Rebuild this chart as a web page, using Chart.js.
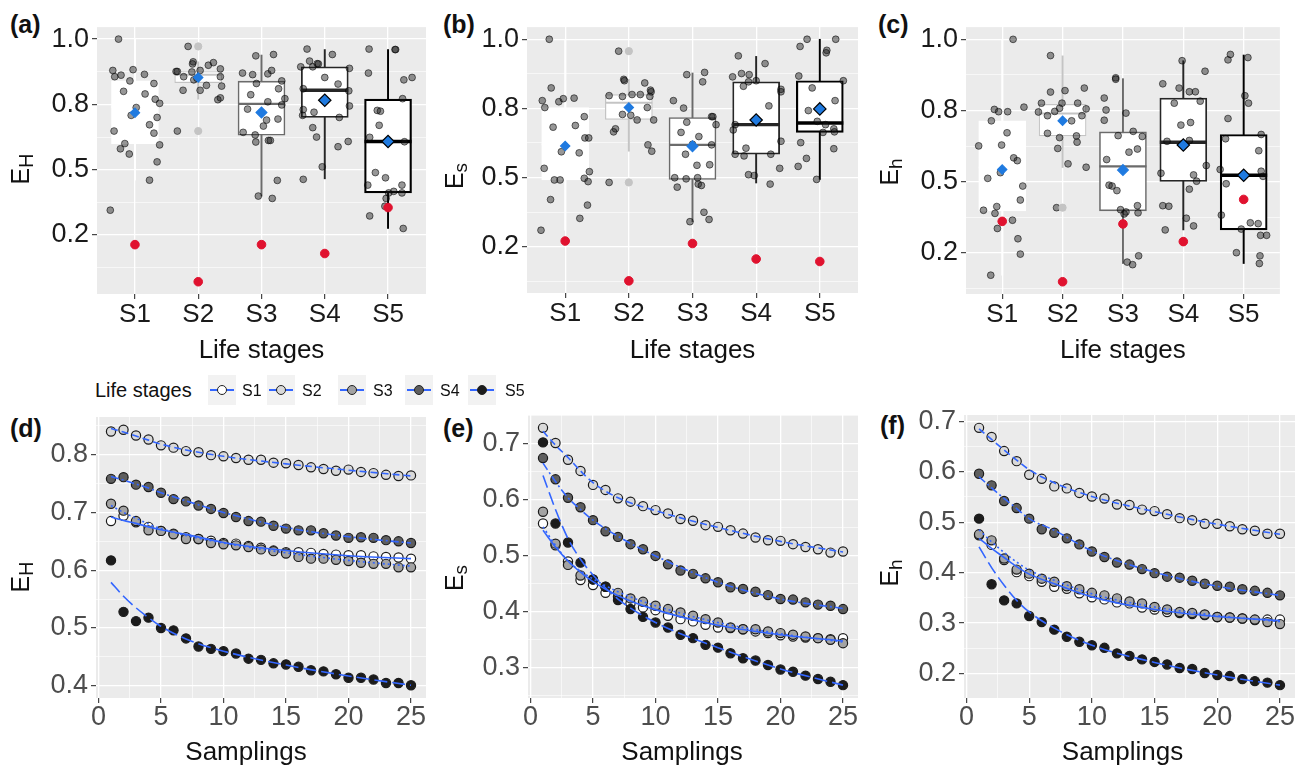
<!DOCTYPE html>
<html lang="en">
<head>
<meta charset="UTF-8">
<title>Evenness across life stages</title>
<script src="https://cdn.jsdelivr.net/npm/chart.js"></script>
<style>
  body { margin: 0; background: #fff; font-family: "Liberation Sans", Arial, sans-serif; }
  #wrap { position: relative; width: 1307px; height: 767px; overflow: hidden; }
  #wrap canvas { position: absolute; left: 0; top: 0; }
  .tag { position: absolute; font-weight: bold; font-size: 25px; line-height: 25px; color: #111; }
  .lg { position: absolute; line-height: 20px; color: #111; white-space: nowrap; }
  .key { position: absolute; width: 28px; height: 30px; background: #f2f2f2; }
  .key .ln { position: absolute; left: 2px; right: 2px; top: 14px; height: 1.5px; background: #3366ff; }
  .key .pt { position: absolute; left: 9px; top: 10px; width: 8px; height: 8px; border: 1px solid #222; border-radius: 50%; }
</style>
</head>
<body>
<div id="wrap">
  <div class="tag" style="left:10px;top:12px">(a)</div>
  <div class="tag" style="left:443px;top:12px">(b)</div>
  <div class="tag" style="left:878px;top:12px">(c)</div>
  <div class="tag" style="left:10px;top:416px">(d)</div>
  <div class="tag" style="left:443px;top:416px">(e)</div>
  <div class="tag" style="left:880px;top:413px">(f)</div>
  <div class="lg" style="left:95px;top:380px;font-size:20px">Life stages</div>
</div>

<script>
const fontFamily = '"Liberation Sans", Arial, Helvetica, sans-serif';

// ---- data: top row (box plots) ----
const stages = ['S1', 'S2', 'S3', 'S4', 'S5'];
const boxTickValues = [0.25, 0.5, 0.75, 1.0];
const boxTickLabels = ['0.2', '0.5', '0.8', '1.0'];
const boxMinorTicks = [0.125, 0.375, 0.625, 0.875];

// jittered observations, [x, y] per stage
const jitterA = [
  [[0.74,1.0],[0.65,0.88],[0.68,0.856],[0.78,0.862],[0.97,0.883],[0.92,0.84],[1.15,0.865],[1.30,0.83],[0.82,0.80],[1.16,0.79],[1.32,0.77],[1.39,0.754],[1.02,0.738],[0.94,0.708],[1.35,0.70],[1.23,0.672],[0.67,0.648],[1.30,0.64],[0.84,0.60],[0.77,0.58],[1.39,0.595],[0.91,0.56],[1.35,0.53],[1.23,0.46],[0.61,0.345]],
  [[1.84,0.972],[1.92,0.913],[1.91,0.905],[1.65,0.876],[1.67,0.876],[1.77,0.856],[1.90,0.874],[2.03,0.88],[2.16,0.90],[2.24,0.91],[2.35,0.886],[2.35,0.856],[2.37,0.82],[2.13,0.823],[1.93,0.844],[1.98,0.85],[1.76,0.804],[2.03,0.804],[2.31,0.768],[2.35,0.775],[1.67,0.648]],
  [[2.91,0.936],[3.19,0.941],[2.70,0.87],[2.86,0.864],[3.10,0.867],[3.16,0.88],[3.32,0.84],[2.92,0.83],[3.27,0.81],[2.83,0.787],[3.10,0.76],[3.37,0.772],[3.32,0.748],[2.78,0.732],[3.08,0.69],[3.26,0.694],[3.03,0.667],[2.71,0.643],[2.90,0.633],[2.91,0.606],[3.11,0.612],[3.14,0.612],[3.25,0.459],[2.95,0.399],[3.17,0.39]],
  [[3.72,0.962],[4.12,0.941],[3.76,0.916],[3.88,0.906],[3.90,0.905],[3.62,0.894],[3.81,0.894],[4.39,0.888],[4.0,0.853],[4.21,0.828],[3.66,0.81],[4.38,0.802],[4.39,0.744],[3.66,0.73],[3.65,0.708],[3.83,0.72],[4.23,0.70],[3.81,0.661],[3.87,0.625],[4.37,0.608],[4.21,0.588],[3.96,0.511],[3.66,0.463]],
  [[4.70,0.962],[5.12,0.96],[5.11,0.96],[4.69,0.87],[5.25,0.844],[5.38,0.853],[5.23,0.772],[4.83,0.727],[4.88,0.724],[4.86,0.67],[4.71,0.624],[5.26,0.607],[4.80,0.489],[4.96,0.469],[5.22,0.441],[4.68,0.441],[5.09,0.417],[5.01,0.411],[5.22,0.411],[4.97,0.39],[4.95,0.36],[4.71,0.323],[5.24,0.275]]
];
const q1A = [0.60, 0.833, 0.632, 0.70, 0.411];
const medA = [0.74, 0.864, 0.752, 0.804, 0.608];
const q3A = [0.84, 0.876, 0.839, 0.894, 0.77];
const loA = [0.46, 0.77, 0.399, 0.465, 0.275];
const hiA = [1.0, 0.913, 0.939, 0.96, 0.96];
const meanA = [0.718, 0.853, 0.719, 0.766, 0.608];
const redA = [0.213, 0.071, 0.213, 0.179, 0.355];
const outS2A = [0.972, 0.648];

const jitterB = [
  [[0.75,1.0],[0.78,0.824],[0.64,0.778],[0.68,0.753],[0.90,0.774],[0.97,0.785],[1.14,0.787],[1.30,0.72],[0.81,0.682],[1.16,0.688],[1.31,0.643],[1.37,0.643],[0.94,0.593],[1.22,0.589],[0.67,0.533],[1.38,0.521],[0.83,0.491],[0.92,0.491],[1.30,0.497],[1.36,0.485],[0.77,0.42],[1.35,0.40],[1.23,0.352],[0.62,0.309]],
  [[1.84,0.957],[1.92,0.855],[1.93,0.85],[2.25,0.842],[2.34,0.816],[2.35,0.81],[1.69,0.796],[1.90,0.793],[2.05,0.80],[2.18,0.80],[2.33,0.793],[2.29,0.753],[1.90,0.728],[2.03,0.725],[2.13,0.708],[2.39,0.708],[1.79,0.676],[1.76,0.665],[2.30,0.618],[2.36,0.595],[1.69,0.482]],
  [[2.91,0.872],[3.19,0.88],[3.16,0.846],[2.70,0.778],[2.86,0.751],[2.91,0.70],[3.30,0.72],[3.32,0.72],[3.37,0.691],[2.82,0.663],[3.10,0.648],[3.30,0.618],[3.0,0.62],[2.89,0.584],[3.27,0.546],[3.07,0.544],[2.72,0.499],[2.90,0.495],[3.08,0.499],[2.76,0.465],[3.09,0.476],[3.14,0.471],[3.18,0.374],[3.26,0.348],[2.96,0.34]],
  [[3.72,0.94],[4.14,0.912],[3.63,0.864],[3.77,0.876],[3.89,0.872],[3.80,0.83],[3.88,0.846],[4.0,0.85],[4.39,0.819],[4.39,0.81],[4.20,0.759],[3.64,0.672],[3.67,0.691],[4.39,0.631],[3.84,0.606],[3.67,0.584],[3.81,0.578],[4.23,0.584],[4.37,0.533],[3.88,0.51],[3.97,0.507],[4.22,0.476]],
  [[4.80,1.0],[5.25,1.0],[4.69,0.974],[5.11,0.96],[5.10,0.951],[4.67,0.867],[5.37,0.85],[4.88,0.824],[5.24,0.778],[4.82,0.742],[4.96,0.703],[5.09,0.691],[5.05,0.663],[5.22,0.676],[5.23,0.665],[4.70,0.626],[5.22,0.604],[4.79,0.569],[4.66,0.54],[4.95,0.493]]
];
const q1B = [0.491, 0.71, 0.493, 0.584, 0.663];
const medB = [0.62, 0.77, 0.618, 0.691, 0.697];
const q3B = [0.753, 0.80, 0.717, 0.846, 0.85];
const loB = [0.309, 0.595, 0.34, 0.48, 0.493];
const hiB = [1.0, 0.855, 0.878, 0.938, 1.0];
const meanB = [0.614, 0.753, 0.613, 0.708, 0.748];
const redB = [0.27, 0.126, 0.261, 0.205, 0.196];
const outS2B = [0.957, 0.482];

const jitterC = [
  [[1.18,1.0],[0.87,0.754],[0.94,0.746],[1.09,0.746],[0.82,0.714],[1.36,0.762],[0.61,0.626],[1.08,0.672],[0.99,0.629],[1.19,0.584],[1.25,0.574],[0.97,0.532],[0.76,0.512],[1.34,0.485],[1.30,0.436],[0.69,0.40],[0.91,0.413],[0.88,0.389],[0.92,0.336],[1.17,0.365],[1.26,0.30],[1.30,0.246],[0.81,0.172]],
  [[1.80,0.943],[1.80,0.815],[2.04,0.82],[2.36,0.829],[1.65,0.776],[1.60,0.745],[1.75,0.732],[1.87,0.747],[1.99,0.776],[1.95,0.758],[2.15,0.714],[2.25,0.776],[2.32,0.732],[2.39,0.756],[1.75,0.67],[1.95,0.655],[2.23,0.661],[2.24,0.639],[1.92,0.617],[2.09,0.563],[2.39,0.551],[1.90,0.409]],
  [[2.88,0.865],[2.88,0.86],[2.69,0.794],[2.72,0.752],[2.69,0.716],[3.05,0.741],[2.92,0.662],[3.17,0.677],[3.32,0.659],[3.10,0.604],[3.24,0.615],[2.73,0.578],[2.77,0.488],[2.82,0.485],[2.90,0.469],[2.96,0.402],[3.05,0.394],[3.24,0.416],[3.25,0.391],[3.02,0.387],[3.07,0.218],[3.16,0.209],[3.26,0.24]],
  [[3.98,0.925],[4.36,0.888],[3.66,0.844],[3.93,0.829],[4.10,0.816],[4.20,0.816],[4.28,0.783],[3.85,0.776],[3.96,0.699],[4.12,0.708],[3.73,0.642],[4.10,0.645],[4.38,0.557],[3.63,0.53],[4.22,0.502],[4.10,0.474],[4.17,0.524],[3.66,0.416],[3.76,0.414],[4.05,0.372],[4.17,0.345],[3.70,0.331]],
  [[4.78,0.947],[4.74,0.928],[5.07,0.936],[5.02,0.802],[5.08,0.776],[4.74,0.722],[5.29,0.666],[5.25,0.609],[4.70,0.651],[4.61,0.543],[5.29,0.537],[4.71,0.493],[5.32,0.519],[4.63,0.383],[4.96,0.334],[5.11,0.356],[5.24,0.353],[5.28,0.312],[5.38,0.312],[4.88,0.251],[5.27,0.24],[5.26,0.213]]
];
const q1C = [0.398, 0.661, 0.398, 0.501, 0.331];
const medC = [0.55, 0.74, 0.554, 0.639, 0.523];
const q3C = [0.714, 0.772, 0.675, 0.794, 0.666];
const loC = [0.172, 0.55, 0.213, 0.331, 0.213];
const hiC = [1.0, 0.942, 0.862, 0.925, 0.945];
const meanC = [0.543, 0.714, 0.541, 0.629, 0.523];
const redC = [0.361, 0.149, 0.352, 0.29, 0.438];
const outS2C = [0.409];

// ---- data: bottom row (accumulation curves) ----
const samplings = [1,2,3,4,5,6,7,8,9,10,11,12,13,14,15,16,17,18,19,20,21,22,23,24,25];
const fitX = [1, 2, 3, 4, 5, 7, 10, 15, 20, 25];

const seriesD = [
  [0.685,0.694,0.683,0.675,0.668,0.663,0.657,0.654,0.651,0.647,0.646,0.642,0.639,0.634,0.631,0.631,0.630,0.628,0.627,0.626,0.626,0.624,0.623,0.622,0.620],
  [0.840,0.843,0.833,0.826,0.816,0.812,0.806,0.804,0.799,0.797,0.794,0.791,0.791,0.786,0.785,0.782,0.778,0.775,0.772,0.774,0.770,0.768,0.765,0.763,0.764],
  [0.715,0.703,0.685,0.669,0.668,0.662,0.654,0.654,0.647,0.645,0.643,0.640,0.636,0.633,0.629,0.623,0.620,0.620,0.618,0.616,0.613,0.611,0.611,0.605,0.605],
  [0.758,0.761,0.748,0.744,0.734,0.723,0.719,0.712,0.706,0.699,0.692,0.685,0.684,0.677,0.672,0.669,0.669,0.664,0.660,0.656,0.657,0.656,0.652,0.650,0.647],
  [0.617,0.528,0.512,0.518,0.500,0.496,0.482,0.468,0.464,0.460,0.456,0.447,0.445,0.439,0.437,0.433,0.427,0.425,0.420,0.414,0.414,0.411,0.405,0.405,0.401]
];
const fitD = [
  [0.692,0.686,0.681,0.675,0.670,0.662,0.648,0.634,0.625,0.620],
  [0.845,0.839,0.832,0.825,0.818,0.808,0.797,0.784,0.773,0.763],
  [0.712,0.700,0.690,0.680,0.672,0.660,0.647,0.630,0.617,0.607],
  [0.762,0.756,0.749,0.742,0.734,0.720,0.700,0.674,0.658,0.647],
  [0.579,0.555,0.535,0.518,0.503,0.481,0.460,0.436,0.417,0.401]
];

const seriesE = [
  [0.557,0.518,0.489,0.456,0.447,0.433,0.426,0.414,0.407,0.402,0.392,0.386,0.382,0.376,0.371,0.370,0.368,0.364,0.361,0.357,0.355,0.353,0.352,0.350,0.352],
  [0.728,0.701,0.671,0.651,0.626,0.617,0.602,0.596,0.588,0.581,0.575,0.565,0.562,0.554,0.551,0.545,0.539,0.532,0.527,0.526,0.520,0.515,0.511,0.505,0.507],
  [0.578,0.521,0.483,0.464,0.457,0.444,0.433,0.423,0.417,0.410,0.404,0.398,0.392,0.386,0.380,0.371,0.368,0.368,0.364,0.361,0.358,0.355,0.352,0.349,0.343],
  [0.674,0.636,0.603,0.586,0.563,0.543,0.533,0.520,0.511,0.499,0.484,0.473,0.467,0.459,0.452,0.443,0.440,0.435,0.429,0.422,0.421,0.416,0.412,0.410,0.404],
  [0.702,0.557,0.523,0.487,0.457,0.444,0.420,0.404,0.390,0.380,0.371,0.358,0.352,0.340,0.335,0.325,0.316,0.312,0.304,0.296,0.292,0.285,0.279,0.274,0.268]
];
const fitE = [
  [0.545,0.515,0.490,0.470,0.453,0.428,0.403,0.375,0.358,0.347],
  [0.722,0.697,0.675,0.651,0.630,0.603,0.580,0.550,0.525,0.506],
  [0.551,0.518,0.490,0.472,0.458,0.435,0.410,0.380,0.360,0.345],
  [0.665,0.632,0.603,0.582,0.563,0.534,0.499,0.452,0.422,0.405],
  [0.643,0.582,0.530,0.493,0.465,0.422,0.380,0.335,0.297,0.268]
];

const seriesF = [
  [0.474,0.455,0.425,0.401,0.393,0.382,0.372,0.368,0.359,0.351,0.347,0.341,0.339,0.331,0.327,0.322,0.320,0.318,0.316,0.312,0.311,0.309,0.306,0.307,0.307],
  [0.687,0.669,0.641,0.621,0.594,0.586,0.571,0.567,0.558,0.551,0.547,0.535,0.534,0.525,0.522,0.516,0.508,0.504,0.497,0.497,0.492,0.486,0.483,0.477,0.477],
  [0.476,0.464,0.428,0.406,0.398,0.388,0.382,0.373,0.367,0.360,0.355,0.349,0.343,0.339,0.332,0.327,0.322,0.320,0.317,0.312,0.311,0.309,0.307,0.302,0.298],
  [0.596,0.573,0.542,0.528,0.507,0.486,0.479,0.468,0.456,0.442,0.431,0.420,0.416,0.407,0.399,0.392,0.390,0.384,0.378,0.374,0.372,0.367,0.364,0.360,0.355],
  [0.507,0.377,0.345,0.339,0.314,0.302,0.287,0.273,0.263,0.256,0.251,0.240,0.235,0.228,0.223,0.218,0.211,0.209,0.201,0.197,0.195,0.189,0.185,0.182,0.177]
];
const fitF = [
  [0.468,0.448,0.430,0.412,0.397,0.378,0.352,0.327,0.313,0.305],
  [0.685,0.664,0.643,0.623,0.604,0.578,0.551,0.521,0.496,0.476],
  [0.485,0.461,0.440,0.421,0.405,0.385,0.358,0.332,0.315,0.303],
  [0.590,0.568,0.547,0.527,0.507,0.484,0.443,0.401,0.373,0.355],
  [0.451,0.410,0.375,0.345,0.322,0.290,0.256,0.222,0.197,0.177]
];

// ---- styles ----
const boxLine = ['#ffffff', '#c4c4c4', '#6b6b6b', '#262626', '#000000'];
const boxEdge = [1.2, 1.2, 1.6, 1.8, 2.2];
const medianEdge = [2, 2, 2.4, 3.4, 3.6];
const meanSize = [4.6, 4.6, 5.4, 6.2, 6.2];
const meanEdge = ['#1f7ae0', '#1f7ae0', '#1f7ae0', '#000000', '#000000'];
const stageFill = ['#ffffff', '#d9d9d9', '#a3a3a3', '#5e5e5e', '#1c1c1c'];
const fitDash = [[], [7, 4], [2, 3], [8, 3, 2, 3], [13, 5]];
const Y_AXIS_W = 60, X_AXIS_H = 40;

function isMajor(v, majors) { return majors.some(m => Math.abs(m - v) < 1e-6); }

const panelDecor = {
  id: 'panelDecor',
  beforeDraw(chart) {
    const a = chart.chartArea, ctx = chart.ctx;
    ctx.save();
    ctx.fillStyle = '#ebebeb';
    ctx.fillRect(a.left, a.top, a.right - a.left, a.bottom - a.top);
    ctx.restore();
  },
  afterDraw(chart, args, o) {
    const a = chart.chartArea, ctx = chart.ctx;
    ctx.save();
    ctx.fillStyle = '#111';
    ctx.textAlign = 'center';
    ctx.textBaseline = 'alphabetic';
    ctx.font = '26px ' + fontFamily;
    ctx.fillText(o.xTitle, (a.left + a.right) / 2 + o.xDx, o.xY);
    ctx.translate(o.yX, o.yY);
    ctx.rotate(-Math.PI / 2);
    ctx.textAlign = 'left';
    ctx.font = '25px ' + fontFamily;
    const wMain = ctx.measureText(o.yMain).width;
    ctx.font = o.subSize + 'px ' + fontFamily;
    const wSub = ctx.measureText(o.ySub).width;
    const x0 = -(wMain + wSub) / 2;
    ctx.font = '25px ' + fontFamily;
    ctx.fillText(o.yMain, x0, 9);
    ctx.font = o.subSize + 'px ' + fontFamily;
    ctx.fillText(o.ySub, x0 + wMain, 13);
    ctx.restore();
  }
};
Chart.register(panelDecor);

function makeCanvas() {
  const c = document.createElement('canvas');
  c.width = 1307; c.height = 767;
  document.getElementById('wrap').appendChild(c);
  return c;
}

function gridOpts(majors) {
  return {
    offset: false,
    color: '#ffffff',
    lineWidth: ctx => (ctx.tick && isMajor(ctx.tick.value, majors)) ? 1.3 : 0.6,
    tickLength: 5,
    tickWidth: 1.1,
    tickColor: ctx => (ctx.tick && isMajor(ctx.tick.value, majors)) ? '#333333' : 'rgba(0,0,0,0)'
  };
}

function baseOptions(geo, decor) {
  return {
    responsive: false,
    animation: false,
    events: [],
    layout: { padding: { left: geo.L - Y_AXIS_W, top: geo.T, right: 1307 - geo.R, bottom: 767 - geo.B - X_AXIS_H } },
    plugins: { legend: { display: false }, tooltip: { enabled: false }, panelDecor: decor }
  };
}

function boxPanel(geo, yMin, yMax, jitter, q1, med, q3, lo, hi, mean, red, outS2, decor) {
  const at = (arr) => arr.map((v, i) => ({ x: i + 1, y: v }));
  const datasets = [
    { type: 'bar', data: stages.map((s, i) => ({ x: i + 1, y: [lo[i], hi[i]] })), backgroundColor: boxLine,
      borderWidth: 0, barThickness: 1.3, grouped: false, order: 30 },
    { type: 'bar', data: stages.map((s, i) => ({ x: i + 1, y: [q1[i], q3[i]] })), backgroundColor: '#ffffff',
      borderColor: boxLine, borderWidth: boxEdge, borderSkipped: false, barThickness: 47, grouped: false, order: 29 },
    { type: 'scatter', data: at(med), pointStyle: 'line', pointRadius: 23.5, pointBorderColor: boxLine,
      pointBorderWidth: medianEdge, order: 28 },
    { type: 'scatter', data: jitter.flat().map(p => ({ x: p[0], y: p[1] })), pointRadius: 3.4,
      pointBackgroundColor: 'rgba(25,25,25,0.45)', pointBorderColor: 'rgba(0,0,0,0.55)', pointBorderWidth: 1, order: 20 },
    { type: 'scatter', data: outS2.map(v => ({ x: 2, y: v })), pointRadius: 3.6,
      pointBackgroundColor: boxLine[1], pointBorderColor: boxLine[1], order: 19 },
    { type: 'scatter', data: at(mean), pointStyle: 'rectRot', pointRadius: meanSize,
      pointBackgroundColor: '#1f7ae0', pointBorderColor: meanEdge, pointBorderWidth: 1.2, order: 18 },
    { type: 'scatter', data: at(red), pointRadius: 4.3, pointBackgroundColor: '#e0122f',
      pointBorderColor: '#e0122f', order: 17 }
  ];
  const opts = baseOptions(geo, decor);
  const yTicks = boxTickValues.concat(boxMinorTicks).sort((a, b) => a - b);
  opts.scales = {
    x: {
      type: 'linear', min: 0.4, max: 5.6, offset: false,
      afterBuildTicks: s => { s.ticks = stages.map((_, i) => ({ value: i + 1 })); },
      afterFit: s => { s.height = X_AXIS_H; },
      ticks: { autoSkip: false, maxRotation: 0, padding: 3, color: '#1a1a1a',
        font: { family: fontFamily, size: 26, lineHeight: 1 },
        callback: v => stages[Math.round(v) - 1] },
      grid: gridOpts([1, 2, 3, 4, 5]),
      border: { display: false }
    },
    y: {
      type: 'linear', min: yMin, max: yMax,
      afterBuildTicks: s => { s.ticks = yTicks.map(v => ({ value: v })); },
      afterFit: s => { s.width = Y_AXIS_W; },
      ticks: { autoSkip: false, padding: 3, color: '#1a1a1a', font: { family: fontFamily, size: 27 },
        callback: v => { const k = boxTickValues.findIndex(m => Math.abs(m - v) < 1e-6); return k < 0 ? '' : boxTickLabels[k]; } },
      grid: gridOpts(boxTickValues),
      border: { display: false }
    }
  };
  new Chart(makeCanvas(), { type: 'scatter', data: { datasets }, options: opts });
}

function curvePanel(geo, yMin, yMax, yMajors, yMinors, series, fits, decor) {
  const datasets = [];
  series.forEach((vals, i) => {
    datasets.push({ type: 'scatter', data: vals.map((y, j) => ({ x: samplings[j], y })), pointRadius: 4.6,
      pointBackgroundColor: stageFill[i], pointBorderColor: '#1a1a1a', pointBorderWidth: 1.2, order: 14 - i });
  });
  fits.forEach((vals, i) => {
    datasets.push({ type: 'line', data: vals.map((y, j) => ({ x: fitX[j], y })), borderColor: '#3366ff',
      borderWidth: 1.6, borderDash: fitDash[i], pointRadius: 0, fill: false, cubicInterpolationMode: 'monotone', order: i });
  });
  const xMajors = [0, 5, 10, 15, 20, 25];
  const xTicks = [0, 2.5, 5, 7.5, 10, 12.5, 15, 17.5, 20, 22.5, 25];
  const yTicks = yMajors.concat(yMinors).sort((a, b) => a - b);
  const opts = baseOptions(geo, decor);
  opts.scales = {
    x: {
      type: 'linear', min: -0.2, max: 26.2, offset: false,
      afterBuildTicks: s => { s.ticks = xTicks.map(v => ({ value: v })); },
      afterFit: s => { s.height = X_AXIS_H; },
      ticks: { autoSkip: false, maxRotation: 0, padding: 1, color: '#4d4d4d',
        font: { family: fontFamily, size: 27, lineHeight: 1 },
        callback: v => isMajor(v, xMajors) ? String(v) : '' },
      grid: gridOpts(xMajors),
      border: { display: false }
    },
    y: {
      type: 'linear', min: yMin, max: yMax,
      afterBuildTicks: s => { s.ticks = yTicks.map(v => ({ value: v })); },
      afterFit: s => { s.width = Y_AXIS_W; },
      ticks: { autoSkip: false, padding: 3, color: '#4d4d4d', font: { family: fontFamily, size: 27 },
        callback: v => isMajor(v, yMajors) ? v.toFixed(1) : '' },
      grid: gridOpts(yMajors),
      border: { display: false }
    }
  };
  new Chart(makeCanvas(), { type: 'scatter', data: { datasets }, options: opts });
}

boxPanel({ L: 97, R: 426, T: 13, B: 294 }, 0.024, 1.046, jitterA, q1A, medA, q3A, loA, hiA, meanA, redA, outS2A,
  { xTitle: 'Life stages', xDx: 0, xY: 358, yMain: 'E', ySub: 'H', subSize: 20, yX: 20, yY: 169 });
boxPanel({ L: 527, R: 858, T: 12, B: 293 }, 0.082, 1.044, jitterB, q1B, medB, q3B, loB, hiB, meanB, redB, outS2B,
  { xTitle: 'Life stages', xDx: 0, xY: 358, yMain: 'E', ySub: 's', subSize: 19, yX: 454, yY: 176 });
boxPanel({ L: 966, R: 1295, T: 13, B: 294 }, 0.106, 1.043, jitterC, q1C, medC, q3C, loC, hiC, meanC, redC, outS2C,
  { xTitle: 'Life stages', xDx: 0, xY: 358, yMain: 'E', ySub: 'h', subSize: 19, yX: 889, yY: 172 });

curvePanel({ L: 96, R: 426, T: 417, B: 698 }, 0.379, 0.865, [0.4, 0.5, 0.6, 0.7, 0.8], [0.45, 0.55, 0.65, 0.75, 0.85],
  seriesD, fitD, { xTitle: 'Samplings', xDx: -15, xY: 760, yMain: 'E', ySub: 'H', subSize: 20, yX: 20, yY: 577 });
curvePanel({ L: 528, R: 858, T: 415, B: 698 }, 0.245, 0.751, [0.3, 0.4, 0.5, 0.6, 0.7], [0.25, 0.35, 0.45, 0.55, 0.65, 0.75],
  seriesE, fitE, { xTitle: 'Samplings', xDx: -11, xY: 760, yMain: 'E', ySub: 's', subSize: 19, yX: 454, yY: 578 });
curvePanel({ L: 964, R: 1295, T: 415, B: 698 }, 0.1515, 0.7125, [0.2, 0.3, 0.4, 0.5, 0.6, 0.7], [0.25, 0.35, 0.45, 0.55, 0.65],
  seriesF, fitF, { xTitle: 'Samplings', xDx: -7, xY: 760, yMain: 'E', ySub: 'h', subSize: 19, yX: 889, yY: 573 });

// legend for the curve panels
const keyLeft = [208, 267, 338, 405, 468];
const keyLabelLeft = [242, 302, 373, 440, 505];
const wrap = document.getElementById('wrap');
stages.forEach((s, i) => {
  const k = document.createElement('div');
  k.className = 'key';
  k.style.left = keyLeft[i] + 'px';
  k.style.top = '375px';
  k.innerHTML = '<div class="ln"></div><div class="pt" style="background:' + stageFill[i] + '"></div>';
  wrap.appendChild(k);
  const t = document.createElement('div');
  t.className = 'lg';
  t.style.left = keyLabelLeft[i] + 'px';
  t.style.top = '381px';
  t.style.fontSize = '16px';
  t.textContent = s;
  wrap.appendChild(t);
});
</script>
</body>
</html>
